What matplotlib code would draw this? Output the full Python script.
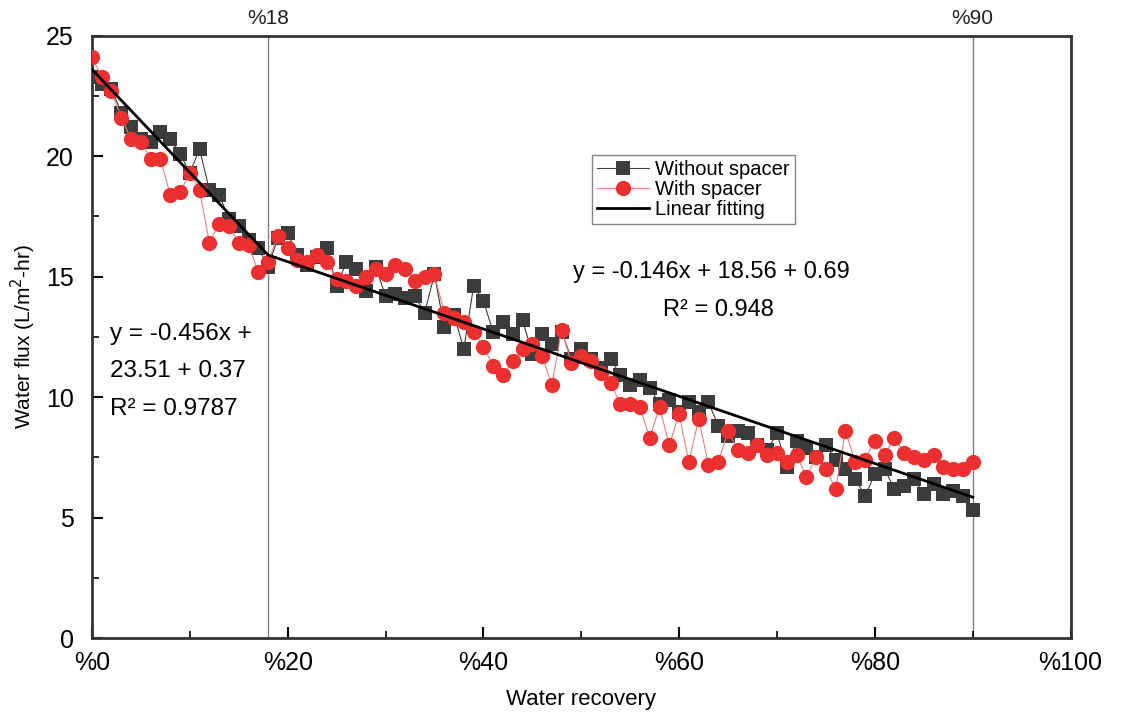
import numpy as np
import matplotlib.pyplot as plt
from matplotlib.ticker import MultipleLocator, FuncFormatter

# -------------------------------
# DATA
# -------------------------------

recovery = [0, 1, 2, 3, 4, 5, 6, 7, 8, 9, 10, 11, 12, 13, 14, 15, 16, 17, 18, 19,
            20, 21, 22, 23, 24, 25, 26, 27, 28, 29, 30, 31, 32, 33, 34, 35, 36, 37, 38, 39,
            40, 41, 42, 43, 44, 45, 46, 47, 48, 49, 50, 51, 52, 53, 54, 55, 56, 57, 58, 59,
            60, 61, 62, 63, 64, 65, 66, 67, 68, 69, 70, 71, 72, 73, 74, 75, 76, 77, 78, 79,
            80, 81, 82, 83, 84, 85, 86, 87, 88, 89, 90]

flux_without = [23.3, 23.0, 22.8, 21.8, 21.2, 20.7, 20.6, 21.0, 20.7, 20.1,
                19.3, 20.3, 18.6, 18.4, 17.4, 17.1, 16.5, 16.2, 15.4, 16.6,
                16.8, 15.9, 15.5, 15.8, 16.2, 14.6, 15.6, 15.3, 14.4, 15.4,
                14.2, 14.3, 14.1, 14.2, 13.5, 15.1, 12.9, 13.4, 12.0, 14.6,
                14.0, 12.7, 13.1, 12.6, 13.2, 11.8, 12.6, 12.2, 12.7, 11.6,
                12.0, 11.6, 11.2, 11.6, 10.9, 10.5, 10.7, 10.4, 9.7, 9.9,
                9.4, 9.8, 9.4, 9.8, 8.8, 8.4, 8.6, 8.5, 8.0, 7.8,
                8.5, 7.1, 8.2, 7.9, 7.5, 8.0, 7.4, 7.0, 6.6, 5.9,
                6.8, 7.0, 6.2, 6.3, 6.6, 6.0, 6.4, 6.0, 6.1, 5.9, 5.3]

flux_with = [24.1, 23.3, 22.7, 21.6, 20.7, 20.6, 19.9, 19.9, 18.4, 18.5,
             19.3, 18.6, 16.4, 17.2, 17.1, 16.4, 16.3, 15.2, 15.6, 16.7,
             16.2, 15.7, 15.6, 15.9, 15.6, 14.9, 14.8, 14.6, 15.0, 15.3,
             15.1, 15.5, 15.3, 14.8, 15.0, 15.1, 13.5, 13.3, 13.1, 12.7,
             12.1, 11.3, 10.9, 11.5, 12.0, 12.2, 11.7, 10.5, 12.8, 11.4,
             11.7, 11.5, 11.0, 10.6, 9.7, 9.7, 9.6, 8.3, 9.6, 8.0,
             9.3, 7.3, 9.1, 7.2, 7.3, 8.6, 7.8, 7.7, 8.0, 7.6,
             7.7, 7.3, 7.6, 6.7, 7.5, 7.0, 6.2, 8.6, 7.3, 7.4,
             8.2, 7.6, 8.3, 7.7, 7.5, 7.4, 7.6, 7.1, 7.0, 7.0, 7.3]

fit_x = [0, 18, 90]
fit_y = [23.6, 15.9, 5.85]

marker_lines = [18, 90]
marker_labels = ["%18", "%90"]

# -------------------------------
# PLOT
# -------------------------------

plt.rcParams['font.family'] = ['Liberation Sans', 'DejaVu Sans']

fig = plt.figure(figsize=(11.21, 7.13), dpi=100)
ax = fig.add_axes([0.082, 0.105, 0.873, 0.845])

ax.plot(recovery, flux_without, color='#3c3c3c', marker='s', markersize=10,
        linewidth=0.8, markeredgewidth=0, label='Without spacer',
        markerfacecolor='#3c3c3c', zorder=3)
ax.plot(recovery, flux_with, color='#e8807f', marker='o', markersize=11,
        linewidth=0.8, markeredgewidth=0, markerfacecolor='#ec2f2f',
        label='With spacer', zorder=4)
ax.plot(fit_x, fit_y, color='black', linewidth=2, label='Linear fitting', zorder=5)

for xv in marker_lines:
    ax.axvline(xv, color='#808080', linewidth=1, zorder=1)

for xv, lab in zip(marker_lines, marker_labels):
    ax.text(xv, 25.3, lab, ha='center', va='bottom', fontsize=15, color='#222222')

ax.set_xlim(0, 100)
ax.set_ylim(0, 25)
ax.xaxis.set_major_locator(MultipleLocator(20))
ax.xaxis.set_minor_locator(MultipleLocator(10))
ax.yaxis.set_major_locator(MultipleLocator(5))
ax.yaxis.set_minor_locator(MultipleLocator(2.5))
ax.xaxis.set_major_formatter(FuncFormatter(lambda v, p: "%%%d" % v))
ax.tick_params(which='major', direction='in', length=8, width=1.5, labelsize=18,
               top=False, right=False)
ax.tick_params(axis='x', which='major', pad=9)
ax.tick_params(axis='y', which='major', pad=13)
ax.tick_params(which='minor', direction='in', length=5, width=1.2,
               top=False, right=False)
for sp in ax.spines.values():
    sp.set_linewidth(2)
    sp.set_color('#333333')

ax.set_xlabel("Water recovery", fontsize=16, labelpad=10)
ax.set_ylabel("Water flux (L/m$^2$-hr)", fontsize=15, labelpad=6)

ax.text(1.8, 12.6, "y = -0.456x +", fontsize=17.5, va='center')
ax.text(1.8, 11.1, "23.51 + 0.37", fontsize=17.5, va='center')
ax.text(1.8, 9.5, "R² = 0.9787", fontsize=17.5, va='center')
ax.text(63.3, 15.2, "y = -0.146x + 18.56 + 0.69", fontsize=17, ha='center', va='center')
ax.text(64.0, 13.6, "R² = 0.948", fontsize=17, ha='center', va='center')

leg = ax.legend(loc='upper left', bbox_to_anchor=(0.511, 0.802), fontsize=14.5,
                frameon=True, fancybox=False, edgecolor='#666666',
                handlelength=2.6, borderpad=0.25, labelspacing=0.05,
                handletextpad=0.3, borderaxespad=0)
leg.get_frame().set_linewidth(1)

plt.savefig("out.png", dpi=100)
